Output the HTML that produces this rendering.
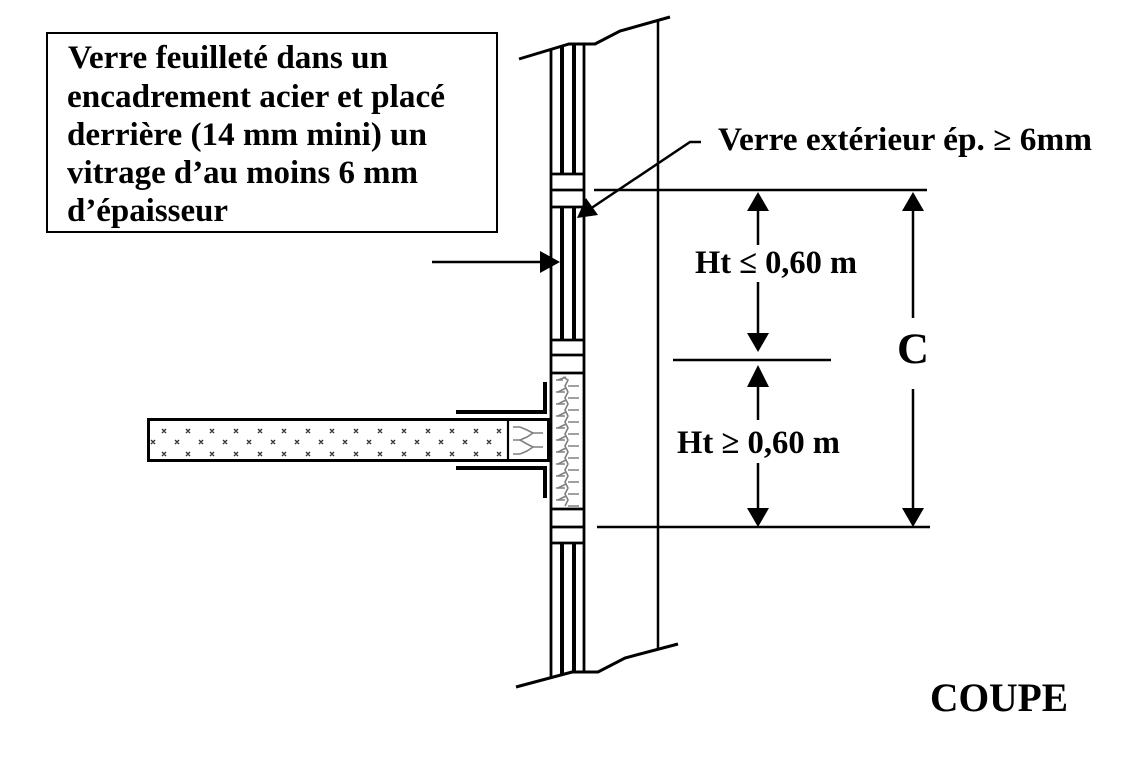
<!DOCTYPE html>
<html>
<head>
<meta charset="utf-8">
<style>
  html, body { margin:0; padding:0; background:#fff; }
  body { width:1139px; height:772px; overflow:hidden; }
  svg { display:block; }
  text { font-family: "Liberation Serif", "Times New Roman", serif; font-weight: bold; fill:#000; }
</style>
</head>
<body>
<svg width="1139" height="772" viewBox="0 0 1139 772" xmlns="http://www.w3.org/2000/svg">
  <rect x="0" y="0" width="1139" height="772" fill="#fff"/>

  <!-- Text box -->
  <rect x="47" y="33" width="450" height="199" fill="none" stroke="#000" stroke-width="2"/>
  <text x="68" y="68" font-size="33" textLength="320" lengthAdjust="spacingAndGlyphs">Verre feuilleté dans un</text>
  <text x="67" y="107" font-size="33" textLength="378" lengthAdjust="spacingAndGlyphs">encadrement acier et placé</text>
  <text x="67" y="145" font-size="33" textLength="360" lengthAdjust="spacingAndGlyphs">derrière (14 mm mini) un</text>
  <text x="67" y="183" font-size="33" textLength="351" lengthAdjust="spacingAndGlyphs">vitrage d’au moins 6 mm</text>
  <text x="67" y="221" font-size="33" textLength="161" lengthAdjust="spacingAndGlyphs">d’épaisseur</text>

  <!-- Break lines -->
  <polyline points="519,59 569,44 595,44 620,31 670,17" fill="none" stroke="#000" stroke-width="3"/>
  <polyline points="516,687 572,672 598,672 625,658 678,644" fill="none" stroke="#000" stroke-width="3"/>

  <!-- Right vertical line -->
  <line x1="658" y1="20" x2="658" y2="650" stroke="#000" stroke-width="2.5"/>

  <!-- Wall outer lines -->
  <line x1="551" y1="49" x2="551" y2="678" stroke="#000" stroke-width="2.8"/>
  <line x1="584" y1="44" x2="584" y2="672" stroke="#000" stroke-width="2.8"/>

  <!-- Inner glass lines -->
  <g stroke="#000" stroke-width="4">
    <line x1="562" y1="46" x2="562" y2="174"/>
    <line x1="574" y1="44" x2="574" y2="174"/>
    <line x1="562" y1="207" x2="562" y2="340"/>
    <line x1="574" y1="207" x2="574" y2="340"/>
    <line x1="562" y1="543" x2="562" y2="675"/>
    <line x1="574" y1="543" x2="574" y2="673"/>
  </g>

  <!-- Spacer block lines -->
  <g stroke="#000" stroke-width="2.8">
    <line x1="551" y1="174" x2="584" y2="174"/>
    <line x1="551" y1="190" x2="584" y2="190"/>
    <line x1="551" y1="207" x2="584" y2="207"/>
    <line x1="551" y1="340" x2="584" y2="340"/>
    <line x1="551" y1="355" x2="584" y2="355"/>
    <line x1="551" y1="373" x2="584" y2="373"/>
    <line x1="551" y1="509" x2="584" y2="509"/>
    <line x1="551" y1="527" x2="584" y2="527"/>
    <line x1="551" y1="543" x2="584" y2="543"/>
  </g>

  <!-- Wall insulation zigzag -->
  <g stroke="#808080" stroke-width="1.6" fill="none">
    <polyline points="563,377 568,380 565,386 568,392 565,398 568,404 565,410 568,416 565,422 568,428 565,434 568,440 565,446 568,452 565,458 568,464 565,470 568,476 565,482 568,488 565,494 568,500 565,506"/>
    <g>
      <path d="M556 380 h7 M556 392 h9 M556 404 h9 M556 416 h9 M556 428 h9 M556 440 h9 M556 452 h9 M556 464 h9 M556 476 h9 M556 488 h9 M556 500 h9"/>
      <path d="M568 386 h11 M568 398 h11 M568 410 h11 M568 422 h11 M568 434 h11 M568 446 h11 M568 458 h11 M568 470 h11 M568 482 h11 M568 494 h11 M568 506 h11"/>
      <path d="M558 380 l8 -3 M558 392 l8 -4 M558 404 l8 -4 M558 416 l8 -4 M558 428 l8 -4 M558 440 l8 -4 M558 452 l8 -4 M558 464 l8 -4 M558 476 l8 -4 M558 488 l8 -4 M558 500 l8 -4"/>
    </g>
  </g>

  <!-- Floor slab -->
  <rect x="148.5" y="419.5" width="400" height="41" fill="#fff" stroke="#000" stroke-width="3"/>
  <line x1="508" y1="419" x2="508" y2="461" stroke="#000" stroke-width="2.2"/>
  <!-- slab dots -->
  <g fill="#333" font-size="9" font-family="Liberation Sans, sans-serif">
    <g id="dots" stroke="#333" stroke-width="1.4">
      <path d="M162 429 l4 4 M166 429 l-4 4 M186 429 l4 4 M190 429 l-4 4 M210 429 l4 4 M214 429 l-4 4 M234 429 l4 4 M238 429 l-4 4 M258 429 l4 4 M262 429 l-4 4 M282 429 l4 4 M286 429 l-4 4 M306 429 l4 4 M310 429 l-4 4 M330 429 l4 4 M334 429 l-4 4 M354 429 l4 4 M358 429 l-4 4 M378 429 l4 4 M382 429 l-4 4 M402 429 l4 4 M406 429 l-4 4 M426 429 l4 4 M430 429 l-4 4 M450 429 l4 4 M454 429 l-4 4 M474 429 l4 4 M478 429 l-4 4 M497 429 l4 4 M501 429 l-4 4"/>
      <path d="M162 452 l4 4 M166 452 l-4 4 M186 452 l4 4 M190 452 l-4 4 M210 452 l4 4 M214 452 l-4 4 M234 452 l4 4 M238 452 l-4 4 M258 452 l4 4 M262 452 l-4 4 M282 452 l4 4 M286 452 l-4 4 M306 452 l4 4 M310 452 l-4 4 M330 452 l4 4 M334 452 l-4 4 M354 452 l4 4 M358 452 l-4 4 M378 452 l4 4 M382 452 l-4 4 M402 452 l4 4 M406 452 l-4 4 M426 452 l4 4 M430 452 l-4 4 M450 452 l4 4 M454 452 l-4 4 M474 452 l4 4 M478 452 l-4 4 M497 452 l4 4 M501 452 l-4 4"/>
      <path d="M151 440 l4 4 M155 440 l-4 4 M175 440 l4 4 M179 440 l-4 4 M199 440 l4 4 M203 440 l-4 4 M223 440 l4 4 M227 440 l-4 4 M247 440 l4 4 M251 440 l-4 4 M271 440 l4 4 M275 440 l-4 4 M295 440 l4 4 M299 440 l-4 4 M319 440 l4 4 M323 440 l-4 4 M343 440 l4 4 M347 440 l-4 4 M367 440 l4 4 M371 440 l-4 4 M391 440 l4 4 M395 440 l-4 4 M415 440 l4 4 M419 440 l-4 4 M439 440 l4 4 M443 440 l-4 4 M463 440 l4 4 M467 440 l-4 4 M487 440 l4 4 M491 440 l-4 4"/>
    </g>
  </g>
  <!-- slab end insulation -->
  <g stroke="#808080" stroke-width="1.6" fill="none">
    <polyline points="520,427 527,430 533,433 527,437 520,440 527,444 533,447 527,451 520,454"/>
    <path d="M513 427 h7 M513 440 h7 M513 454 h7 M533 433 h10 M533 447 h10"/>
  </g>

  <!-- Steel angles -->
  <g stroke="#000" stroke-width="4" fill="none">
    <polyline points="456,412 545,412 545,382"/>
    <polyline points="456,468 545,468 545,498"/>
  </g>

  <!-- Arrow to glass from left -->
  <line x1="432" y1="262" x2="542" y2="262" stroke="#000" stroke-width="2.5"/>
  <polygon points="560,262 540,251 540,273" fill="#000"/>

  <!-- Leader to exterior glass -->
  <polyline points="701,142 690,142 590,209" fill="none" stroke="#000" stroke-width="2.5"/>
  <polygon points="577,218 586,198 598,215" fill="#000"/>
  <text x="718" y="150" font-size="33" textLength="374" lengthAdjust="spacingAndGlyphs">Verre extérieur ép. ≥ 6mm</text>

  <!-- Dimension lines -->
  <g stroke="#000" stroke-width="2.5">
    <line x1="594" y1="190" x2="927" y2="190"/>
    <line x1="673" y1="360" x2="831" y2="360"/>
    <line x1="597" y1="527" x2="930" y2="527"/>
    <!-- left dim shafts -->
    <line x1="758" y1="208" x2="758" y2="245"/>
    <line x1="758" y1="282" x2="758" y2="336"/>
    <line x1="758" y1="385" x2="758" y2="420"/>
    <line x1="758" y1="463" x2="758" y2="510"/>
    <!-- right dim shafts -->
    <line x1="913" y1="208" x2="913" y2="318"/>
    <line x1="913" y1="389" x2="913" y2="510"/>
  </g>
  <g fill="#000">
    <polygon points="758,192 747,211 769,211"/>
    <polygon points="758,352 747,333 769,333"/>
    <polygon points="758,365 747,387 769,387"/>
    <polygon points="758,527 747,508 769,508"/>
    <polygon points="913,192 902,211 924,211"/>
    <polygon points="913,527 902,508 924,508"/>
  </g>

  <text x="695" y="273" font-size="33" textLength="162" lengthAdjust="spacingAndGlyphs">Ht ≤ 0,60 m</text>
  <text x="677" y="453" font-size="33" textLength="163" lengthAdjust="spacingAndGlyphs">Ht ≥ 0,60 m</text>
  <text x="897" y="363" font-size="43" textLength="32" lengthAdjust="spacingAndGlyphs">C</text>
  <text x="930" y="711" font-size="40" textLength="138" lengthAdjust="spacingAndGlyphs">COUPE</text>
</svg>
</body>
</html>
